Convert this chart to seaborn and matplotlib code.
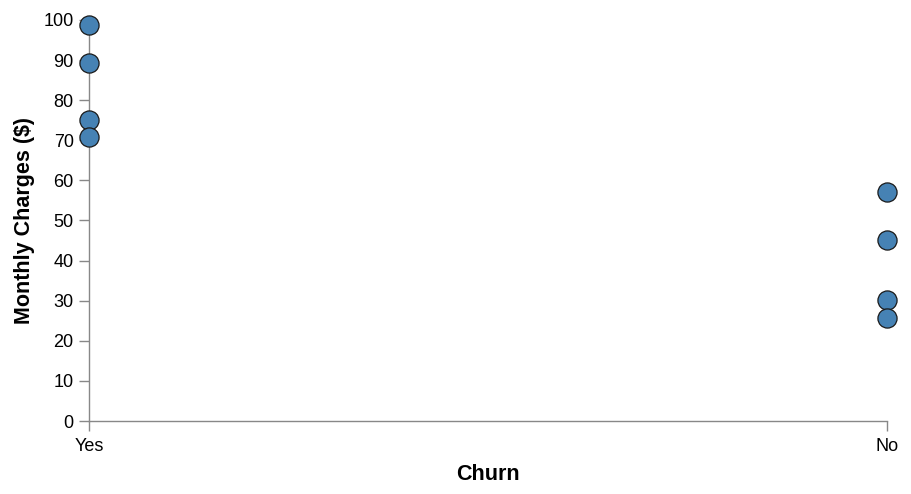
import pandas as pd
import matplotlib
matplotlib.use("Agg")
import matplotlib.pyplot as plt
import seaborn as sns


# Data
churn = ["Yes", "Yes", "Yes", "Yes", "No", "No", "No", "No"]
monthly_charges = [98.75, 89.2, 75.1, 70.7, 57.0, 45.1, 30.2, 25.8]
y_ticks = list(range(0, 101, 10))

df = pd.DataFrame({"Churn": churn, "Monthly Charges ($)": monthly_charges})


sns.set_style("white")
plt.rcParams["font.family"] = ["Liberation Sans", "DejaVu Sans"]

fig = plt.figure(figsize=(9.12, 4.94), dpi=100)
ax = fig.add_axes([89 / 912, 73 / 494, 798 / 912, 401 / 494])

sns.scatterplot(
    data=df,
    x="Churn",
    y="Monthly Charges ($)",
    color="#4682b4",
    edgecolor="#1a1a1a",
    linewidth=0.9,
    s=190,
    clip_on=False,
    zorder=5,
    ax=ax
)

ax.set_xlim(0, 1)
ax.set_ylim(0, 100)
ax.set_yticks(y_ticks)
ax.set_xticks([0, 1])
ax.set_xticklabels(["Yes", "No"])

grey = "#888888"
for side in ["top", "right"]:
    ax.spines[side].set_visible(False)
for side in ["left", "bottom"]:
    ax.spines[side].set_color(grey)
    ax.spines[side].set_linewidth(1.0)

ax.tick_params(axis="both", bottom=True, left=True, length=7, width=1.0,
               color=grey, labelsize=13, labelcolor="black",
               direction="out", pad=4)
ax.tick_params(axis="x", pad=5.5)

ax.set_xlabel("Churn", fontsize=15.5, fontweight="bold", color="black",
              labelpad=6.5)
ax.set_ylabel("Monthly Charges ($)", fontsize=15.5, fontweight="bold",
              color="black", labelpad=6)

fig.savefig("out.png", dpi=100)
